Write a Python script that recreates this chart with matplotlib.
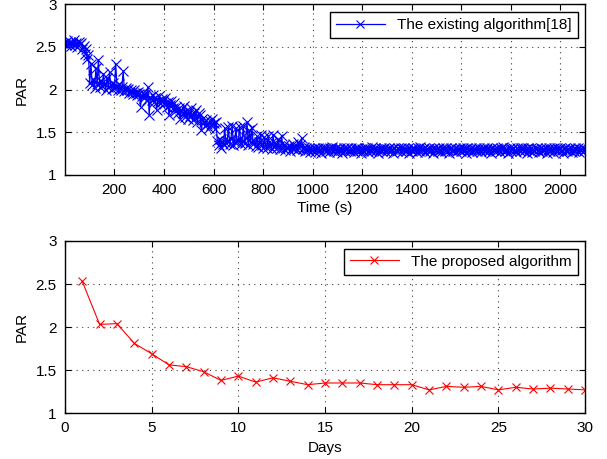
import numpy as np
import matplotlib
matplotlib.use('Agg')
import matplotlib.pyplot as plt

plt.rcParams['font.family'] = ['Liberation Sans', 'DejaVu Sans']
plt.rcParams['font.size'] = 11

# existing algorithm, sampled every 5 s up to 995 s
par_existing_early = [
    2.55, 2.52, 2.57, 2.53, 2.56, 2.51, 2.55, 2.58, 2.52, 2.54,
    2.50, 2.56, 2.53, 2.55, 2.48, 2.51, 2.42, 2.47, 2.36, 2.40,
    2.08, 2.30, 2.05, 2.12, 2.02, 2.25, 2.07, 2.35, 2.03, 2.10,
    2.04, 2.18, 2.06, 2.00, 2.14, 2.03, 2.20, 2.05, 2.01, 2.08,
    2.02, 2.30, 2.04, 1.99, 2.06, 2.00, 2.03, 2.22, 1.98, 2.02,
    1.99, 2.01, 1.96, 2.00, 1.97, 1.95, 1.99, 1.96, 1.93, 1.97,
    1.95, 1.80, 1.92, 1.96, 1.90, 1.94, 1.88, 2.03, 1.70, 1.91,
    1.88, 1.93, 1.85, 1.90, 1.76, 1.87, 1.92, 1.84, 1.89, 1.86,
    1.83, 1.90, 1.80, 1.85, 1.70, 1.82, 1.87, 1.78, 1.84, 1.75,
    1.80, 1.72, 1.78, 1.66, 1.76, 1.73, 1.81, 1.68, 1.75, 1.65,
    1.74, 1.69, 1.78, 1.64, 1.73, 1.67, 1.76, 1.62, 1.72, 1.70,
    1.53, 1.66, 1.62, 1.57, 1.64, 1.60, 1.55, 1.63, 1.58, 1.65,
    1.61, 1.54, 1.62, 1.40, 1.35, 1.42, 1.31, 1.38, 1.36, 1.55,
    1.37, 1.40, 1.56, 1.36, 1.42, 1.57, 1.35, 1.39, 1.55, 1.38,
    1.41, 1.56, 1.36, 1.40, 1.57, 1.37, 1.43, 1.62, 1.35, 1.52,
    1.38, 1.55, 1.36, 1.40, 1.34, 1.45, 1.33, 1.38, 1.47, 1.35,
    1.32, 1.44, 1.35, 1.31, 1.46, 1.34, 1.37, 1.30, 1.47, 1.33,
    1.36, 1.31, 1.42, 1.34, 1.30, 1.45, 1.32, 1.35, 1.29, 1.33,
    1.31, 1.34, 1.28, 1.32, 1.36, 1.30, 1.33, 1.29, 1.38, 1.31,
    1.35, 1.43, 1.30, 1.33, 1.28, 1.31, 1.29, 1.32, 1.27, 1.30,
]
# existing algorithm, every 5 s from 1000 to 2100 s
par_existing_late = [
    1.29, 1.31, 1.27, 1.30, 1.32, 1.28, 1.30, 1.26, 1.31, 1.29,
    1.32, 1.28, 1.30, 1.27, 1.31, 1.29, 1.33, 1.28, 1.30, 1.31,
    1.27, 1.30, 1.32, 1.29, 1.26, 1.31, 1.28, 1.30, 1.32, 1.29,
    1.28, 1.31, 1.29, 1.27, 1.30, 1.32, 1.28, 1.31, 1.29, 1.26,
    1.30, 1.28, 1.32, 1.29, 1.31, 1.27, 1.30, 1.28, 1.33, 1.29,
    1.31, 1.28, 1.30, 1.26, 1.29, 1.32, 1.28, 1.30, 1.31, 1.27,
    1.30, 1.29, 1.32, 1.28, 1.30, 1.26, 1.31, 1.29, 1.28, 1.32,
    1.29, 1.31, 1.27, 1.30, 1.32, 1.28, 1.29, 1.31, 1.26, 1.30,
    1.28, 1.32, 1.29, 1.30, 1.27, 1.31, 1.28, 1.33, 1.29, 1.30,
    1.31, 1.27, 1.30, 1.29, 1.32, 1.28, 1.30, 1.26, 1.31, 1.29,
    1.30, 1.28, 1.31, 1.29, 1.27, 1.32, 1.30, 1.28, 1.31, 1.29,
    1.26, 1.30, 1.32, 1.28, 1.29, 1.31, 1.27, 1.30, 1.29, 1.32,
    1.28, 1.31, 1.29, 1.30, 1.26, 1.32, 1.28, 1.30, 1.31, 1.27,
    1.30, 1.29, 1.31, 1.28, 1.32, 1.29, 1.27, 1.30, 1.31, 1.28,
    1.29, 1.32, 1.28, 1.30, 1.26, 1.31, 1.29, 1.30, 1.28, 1.32,
    1.30, 1.27, 1.31, 1.29, 1.33, 1.28, 1.30, 1.29, 1.26, 1.31,
    1.28, 1.30, 1.32, 1.29, 1.27, 1.31, 1.30, 1.28, 1.32, 1.29,
    1.31, 1.28, 1.30, 1.26, 1.32, 1.29, 1.31, 1.27, 1.30, 1.28,
    1.30, 1.32, 1.29, 1.27, 1.31, 1.28, 1.30, 1.29, 1.32, 1.26,
    1.29, 1.31, 1.28, 1.30, 1.27, 1.32, 1.29, 1.31, 1.28, 1.30,
    1.31, 1.29, 1.26, 1.30, 1.32, 1.28, 1.30, 1.29, 1.31, 1.27,
    1.30, 1.28, 1.32, 1.29, 1.31, 1.27, 1.30, 1.29, 1.31, 1.28,
    1.30,
]

days = list(range(1, 31))
par_proposed = [2.53, 2.03, 2.04, 1.81, 1.69, 1.56, 1.54, 1.48, 1.38, 1.43,
                1.36, 1.41, 1.37, 1.33, 1.35, 1.35, 1.35, 1.33, 1.33, 1.33,
                1.27, 1.31, 1.30, 1.31, 1.27, 1.30, 1.28, 1.29, 1.28, 1.27]

t_early = np.arange(0, 1000, 5)
t_late = np.arange(1000, 2101, 5)
t_all = np.concatenate([t_early, t_late])
par_all = par_existing_early + par_existing_late


def style(ax):
    ax.grid(True, linestyle=(0, (1, 4)), color='0.25', linewidth=0.8)
    ax.tick_params(direction='in', top=True, right=True, length=4,
                   labelsize=11, pad=6)
    for s in ax.spines.values():
        s.set_linewidth(1.0)
    ax.set_ylim(1, 3)
    ax.set_yticks([1, 1.5, 2, 2.5, 3])
    ax.set_yticklabels(['1', '1.5', '2', '2.5', '3'])
    ax.set_ylabel('PAR', labelpad=5)


fig = plt.figure(figsize=(6.07, 4.59), dpi=100)
ax1 = fig.add_axes([0.107, 0.619, 0.857, 0.372])
ax2 = fig.add_axes([0.107, 0.100, 0.857, 0.375])

ax1.plot(t_all, par_all, color='#0000ff', marker='x', markersize=7,
         markeredgewidth=0.8, linewidth=0.9, label='The existing algorithm[18]')
ax1.set_xlim(0, 2100)
ax1.set_xticks(range(200, 2001, 200))
ax1.set_xlabel('Time (s)', labelpad=3)
style(ax1)
ax1.legend(loc='upper right', fancybox=False, edgecolor='k', framealpha=1,
           handlelength=3.2, borderaxespad=0.5, fontsize=11,
           markerscale=0.85).get_frame().set_linewidth(1.0)

ax2.plot(days, par_proposed, color='#ff0000', marker='x', markersize=6,
         markeredgewidth=0.8, linewidth=0.8, label='The proposed algorithm')
ax2.set_xlim(0, 30)
ax2.set_xticks(range(0, 31, 5))
ax2.set_xlabel('Days', labelpad=4)
style(ax2)
ax2.legend(loc='upper right', fancybox=False, edgecolor='k', framealpha=1,
           handlelength=3.2, borderaxespad=0.5, fontsize=11).get_frame().set_linewidth(1.0)

fig.savefig('out.png', dpi=100)
